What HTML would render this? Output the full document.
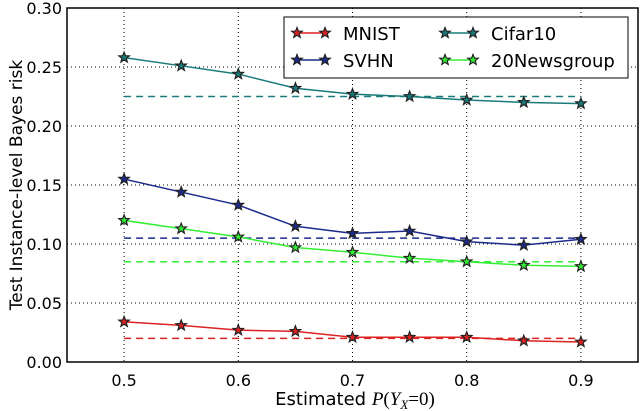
<!DOCTYPE html>
<html><head><meta charset="utf-8"><style>
body{margin:0;background:#fff}
svg{display:block;font-family:"DejaVu Sans","Liberation Sans",sans-serif}
</style></head><body>
<svg id="chart" width="640" height="411" viewBox="0 0 640 411" xmlns="http://www.w3.org/2000/svg"></svg>
<script>
const xValues=[0.5,0.55,0.6,0.65,0.7,0.75,0.8,0.85,0.9];
const xTicks=[0.5,0.6,0.7,0.8,0.9];
const yTicks=[0,0.05,0.1,0.15,0.2,0.25,0.3];
const seriesNames=["MNIST","SVHN","Cifar10","20Newsgroup"];
const mnistValues=[0.034,0.031,0.027,0.026,0.021,0.021,0.021,0.018,0.017];
const svhnValues=[0.155,0.144,0.133,0.115,0.109,0.111,0.102,0.099,0.104];
const cifarValues=[0.258,0.251,0.244,0.232,0.227,0.225,0.222,0.220,0.219];
const newsValues=[0.120,0.113,0.106,0.097,0.093,0.088,0.085,0.082,0.081];
const baselineValues=[0.020,0.105,0.225,0.085];

const svg=document.getElementById('chart');
const NS='http://www.w3.org/2000/svg';
const L=67,R=638,T=8,B=362;
const sx=v=>L+(v-0.45)/(0.5)*(R-L);
const sy=v=>B-(v/0.3)*(B-T);
function mk(tag,attrs,parent){const e=document.createElementNS(NS,tag);for(const k in attrs)e.setAttribute(k,attrs[k]);(parent||svg).appendChild(e);return e;}
function star(cx,cy,r,fill,parent){let p=[];for(let i=0;i<10;i++){const a=-Math.PI/2+i*Math.PI/5;const rr=i%2?r*0.42:r;p.push((cx+rr*Math.cos(a)).toFixed(1)+','+(cy+rr*Math.sin(a)).toFixed(1));}
const s=mk('polygon',{points:p.join(' '),fill:fill,stroke:'#222','stroke-width':1.2},parent);return s;}

xTicks.forEach(t=>{const g=mk('line',{x1:sx(t),x2:sx(t),y1:T,y2:B,stroke:'#000','stroke-width':1,'stroke-dasharray':'1,3'});

const tx=mk('text',{x:sx(t),y:B+24,'text-anchor':'middle','font-size':16});tx.textContent=t.toFixed(1);
});
yTicks.forEach(t=>{if(t>0&&t<0.3){const g=mk('line',{x1:L,x2:R,y1:sy(t),y2:sy(t),stroke:'#000','stroke-width':1,'stroke-dasharray':'1,3'});
}
const tx=mk('text',{x:L-5,y:sy(t)+6,'text-anchor':'end','font-size':16});tx.textContent=t.toFixed(2);
});

const colors=['#dd2222','#1c2a8c','#1a7a7a','#33ee33'];
const data=[mnistValues,svhnValues,cifarValues,newsValues];
data.forEach((vals,i)=>{
const d=mk('line',{x1:sx(0.5),x2:sx(0.9),y1:sy(baselineValues[i]),y2:sy(baselineValues[i]),stroke:colors[i],'stroke-width':1.5,'stroke-dasharray':'7,5'});

const pl=mk('polyline',{points:vals.map((v,j)=>sx(xValues[j])+','+sy(v)).join(' '),fill:'none',stroke:colors[i],'stroke-width':1.5});

vals.forEach((v,j)=>{const s=star(sx(xValues[j]),sy(v),5.5,colors[i]);
});
});

const box=mk('rect',{x:L,y:T,width:R-L,height:B-T,fill:'none',stroke:'#000','stroke-width':1.5});


const lg=mk('g',{});

mk('rect',{x:284,y:17,width:344,height:61,fill:'#fff',stroke:'#000','stroke-width':1},lg);
const pos=[[297,33],[297,60],[445,33],[445,60]];
seriesNames.forEach((n,i)=>{const [x,y]=pos[i];
const e=mk('g',{},lg);
mk('line',{x1:x,x2:x+28,y1:y,y2:y,stroke:colors[i],'stroke-width':1.5},e);
star(x,y,5.5,colors[i],e);star(x+28,y,5.5,colors[i],e);
const t=mk('text',{x:x+46,y:y+7,'font-size':18},e);t.textContent=n;});

const yl=mk('text',{x:0,y:0,'text-anchor':'middle','font-size':17,transform:'translate(22,'+((T+B)/2)+') rotate(-90)'});
yl.textContent='Test Instance-level Bayes risk';
const xl=mk('text',{x:355,y:405,'text-anchor':'middle','font-size':18});
xl.innerHTML='Estimated <tspan font-family="Liberation Serif,serif" font-style="italic" font-size="19">P</tspan><tspan font-family="Liberation Serif,serif" font-size="19">(</tspan><tspan font-family="Liberation Serif,serif" font-style="italic" font-size="19">Y</tspan><tspan font-family="Liberation Serif,serif" font-style="italic" font-size="13" dy="4">X</tspan><tspan font-family="Liberation Serif,serif" font-size="19" dy="-4">=0)</tspan>';

</script>
</body></html>
